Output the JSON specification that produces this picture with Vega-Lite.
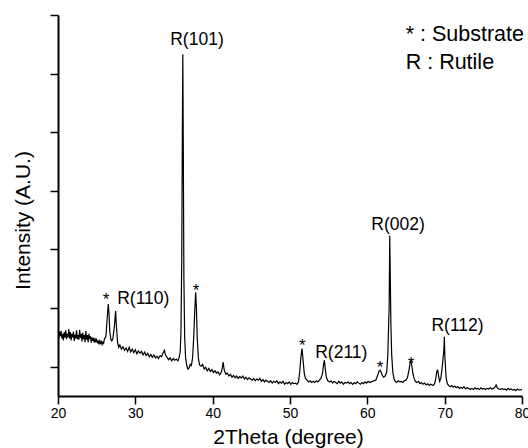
{
  "$schema": "https://vega.github.io/schema/vega-lite/v6.json",
  "width": 464,
  "height": 381,
  "autosize": "none",
  "padding": {"left": 58, "top": 15, "right": 6, "bottom": 52},
  "config": {
    "font": "Liberation Sans",
    "view": {"stroke": null},
    "axis": {"grid": false}
  },
  "datasets": {
    "xrd": [
      {"t":20.0,"i":540},{"t":20.1,"i":470},{"t":20.2,"i":600},{"t":20.3,"i":520},{"t":20.4,"i":610},
      {"t":20.5,"i":480},{"t":20.6,"i":560},{"t":20.7,"i":450},{"t":20.8,"i":590},{"t":20.9,"i":500},
      {"t":21.0,"i":620},{"t":21.1,"i":470},{"t":21.2,"i":560},{"t":21.3,"i":500},{"t":21.4,"i":640},
      {"t":21.5,"i":480},{"t":21.6,"i":590},{"t":21.7,"i":450},{"t":21.8,"i":560},{"t":21.9,"i":500},
      {"t":22.0,"i":600},{"t":22.1,"i":440},{"t":22.2,"i":550},{"t":22.3,"i":480},{"t":22.4,"i":620},
      {"t":22.5,"i":470},{"t":22.6,"i":540},{"t":22.7,"i":460},{"t":22.8,"i":630},{"t":22.9,"i":490},
      {"t":23.0,"i":560},{"t":23.1,"i":430},{"t":23.2,"i":580},{"t":23.3,"i":470},{"t":23.4,"i":540},
      {"t":23.5,"i":420},{"t":23.6,"i":610},{"t":23.7,"i":460},{"t":23.8,"i":540},{"t":23.9,"i":420},
      {"t":24.0,"i":560},{"t":24.1,"i":470},{"t":24.2,"i":520},{"t":24.3,"i":410},{"t":24.4,"i":500},
      {"t":24.5,"i":440},{"t":24.6,"i":490},{"t":24.7,"i":410},{"t":24.8,"i":470},{"t":24.9,"i":430},
      {"t":25.0,"i":460},{"t":25.1,"i":400},{"t":25.2,"i":450},{"t":25.3,"i":380},{"t":25.4,"i":440},
      {"t":25.5,"i":400},{"t":25.6,"i":430},{"t":25.7,"i":380},{"t":25.8,"i":420},{"t":25.9,"i":400},
      {"t":26.0,"i":470},{"t":26.2,"i":520},{"t":26.35,"i":800},{"t":26.5,"i":1070},{"t":26.6,"i":900},
      {"t":26.7,"i":600},{"t":26.85,"i":460},{"t":26.95,"i":440},{"t":27.1,"i":480},{"t":27.3,"i":700},
      {"t":27.45,"i":950},{"t":27.55,"i":700},{"t":27.7,"i":420},{"t":27.85,"i":330},{"t":28.0,"i":370},
      {"t":28.2,"i":300},{"t":28.4,"i":340},{"t":28.6,"i":280},{"t":28.8,"i":320},{"t":29.0,"i":260},
      {"t":29.2,"i":330},{"t":29.4,"i":250},{"t":29.6,"i":300},{"t":29.8,"i":240},{"t":30.0,"i":290},
      {"t":30.2,"i":220},{"t":30.4,"i":270},{"t":30.6,"i":230},{"t":30.8,"i":260},{"t":31.0,"i":200},
      {"t":31.2,"i":250},{"t":31.4,"i":190},{"t":31.6,"i":230},{"t":31.8,"i":170},{"t":32.0,"i":210},
      {"t":32.2,"i":160},{"t":32.4,"i":200},{"t":32.6,"i":150},{"t":32.8,"i":180},{"t":33.0,"i":140},
      {"t":33.2,"i":190},{"t":33.4,"i":170},{"t":33.6,"i":240},{"t":33.75,"i":280},{"t":33.9,"i":200},
      {"t":34.1,"i":160},{"t":34.3,"i":120},{"t":34.5,"i":150},{"t":34.7,"i":100},{"t":34.9,"i":140},
      {"t":35.1,"i":110},{"t":35.3,"i":130},{"t":35.5,"i":100},{"t":35.65,"i":150},{"t":35.8,"i":250},
      {"t":35.9,"i":600},{"t":36.0,"i":1800},{"t":36.08,"i":4000},{"t":36.14,"i":5330},{"t":36.2,"i":3800},
      {"t":36.28,"i":1500},{"t":36.38,"i":500},{"t":36.5,"i":150},{"t":36.65,"i":20},{"t":36.8,"i":-40},
      {"t":36.95,"i":-20},{"t":37.1,"i":40},{"t":37.25,"i":20},{"t":37.4,"i":150},{"t":37.55,"i":500},
      {"t":37.7,"i":1000},{"t":37.8,"i":1270},{"t":37.9,"i":1000},{"t":38.0,"i":500},{"t":38.15,"i":150},
      {"t":38.3,"i":30},{"t":38.5,"i":10},{"t":38.7,"i":40},{"t":38.9,"i":-40},{"t":39.1,"i":-10},
      {"t":39.3,"i":-70},{"t":39.5,"i":-30},{"t":39.7,"i":-80},{"t":39.9,"i":-50},{"t":40.1,"i":-100},
      {"t":40.3,"i":-70},{"t":40.5,"i":-110},{"t":40.7,"i":-90},{"t":40.9,"i":-140},{"t":41.1,"i":-100},
      {"t":41.25,"i":-20},{"t":41.35,"i":80},{"t":41.5,"i":-60},{"t":41.7,"i":-130},{"t":41.9,"i":-110},
      {"t":42.1,"i":-160},{"t":42.3,"i":-130},{"t":42.5,"i":-180},{"t":42.7,"i":-150},{"t":42.9,"i":-190},
      {"t":43.1,"i":-160},{"t":43.3,"i":-200},{"t":43.5,"i":-170},{"t":43.7,"i":-190},{"t":43.9,"i":-160},
      {"t":44.1,"i":-210},{"t":44.3,"i":-180},{"t":44.5,"i":-220},{"t":44.7,"i":-190},{"t":44.9,"i":-210},
      {"t":45.1,"i":-230},{"t":45.3,"i":-200},{"t":45.5,"i":-240},{"t":45.7,"i":-210},{"t":45.9,"i":-230},
      {"t":46.1,"i":-200},{"t":46.3,"i":-250},{"t":46.5,"i":-220},{"t":46.7,"i":-260},{"t":46.9,"i":-230},
      {"t":47.1,"i":-250},{"t":47.3,"i":-270},{"t":47.5,"i":-240},{"t":47.7,"i":-280},{"t":47.9,"i":-250},
      {"t":48.1,"i":-270},{"t":48.3,"i":-240},{"t":48.5,"i":-290},{"t":48.7,"i":-260},{"t":48.9,"i":-280},
      {"t":49.1,"i":-250},{"t":49.3,"i":-300},{"t":49.5,"i":-270},{"t":49.7,"i":-290},{"t":49.9,"i":-260},
      {"t":50.1,"i":-300},{"t":50.3,"i":-270},{"t":50.5,"i":-290},{"t":50.7,"i":-280},{"t":50.9,"i":-300},
      {"t":51.1,"i":-260},{"t":51.25,"i":-100},{"t":51.4,"i":150},{"t":51.55,"i":310},{"t":51.7,"i":100},
      {"t":51.85,"i":-120},{"t":52.0,"i":-200},{"t":52.2,"i":-230},{"t":52.4,"i":-260},{"t":52.6,"i":-240},
      {"t":52.8,"i":-270},{"t":53.0,"i":-250},{"t":53.2,"i":-270},{"t":53.4,"i":-240},{"t":53.6,"i":-260},
      {"t":53.8,"i":-230},{"t":54.0,"i":-200},{"t":54.2,"i":-120},{"t":54.35,"i":50},{"t":54.45,"i":110},
      {"t":54.55,"i":-30},{"t":54.7,"i":-180},{"t":54.9,"i":-240},{"t":55.1,"i":-260},{"t":55.3,"i":-240},
      {"t":55.5,"i":-280},{"t":55.7,"i":-250},{"t":55.9,"i":-270},{"t":56.1,"i":-290},{"t":56.3,"i":-250},
      {"t":56.5,"i":-280},{"t":56.7,"i":-260},{"t":56.9,"i":-300},{"t":57.1,"i":-270},{"t":57.3,"i":-280},
      {"t":57.5,"i":-260},{"t":57.7,"i":-290},{"t":57.9,"i":-270},{"t":58.1,"i":-300},{"t":58.3,"i":-270},
      {"t":58.5,"i":-290},{"t":58.7,"i":-260},{"t":58.9,"i":-280},{"t":59.1,"i":-300},{"t":59.3,"i":-270},
      {"t":59.5,"i":-290},{"t":59.7,"i":-260},{"t":59.9,"i":-280},{"t":60.1,"i":-250},{"t":60.3,"i":-270},
      {"t":60.5,"i":-260},{"t":60.7,"i":-250},{"t":60.9,"i":-240},{"t":61.1,"i":-230},{"t":61.3,"i":-160},
      {"t":61.5,"i":-80},{"t":61.65,"i":-60},{"t":61.8,"i":-100},{"t":61.95,"i":-150},{"t":62.1,"i":-180},
      {"t":62.3,"i":-160},{"t":62.5,"i":-100},{"t":62.65,"i":200},{"t":62.75,"i":700},{"t":62.82,"i":1000},
      {"t":62.9,"i":2240},{"t":62.97,"i":1500},{"t":63.05,"i":700},{"t":63.15,"i":200},{"t":63.3,"i":-100},
      {"t":63.45,"i":-200},{"t":63.6,"i":-250},{"t":63.8,"i":-270},{"t":64.0,"i":-240},{"t":64.2,"i":-260},
      {"t":64.4,"i":-250},{"t":64.6,"i":-270},{"t":64.8,"i":-240},{"t":65.0,"i":-230},{"t":65.2,"i":-180},
      {"t":65.4,"i":-50},{"t":65.55,"i":80},{"t":65.65,"i":100},{"t":65.75,"i":20},{"t":65.9,"i":-120},
      {"t":66.05,"i":-200},{"t":66.2,"i":-250},{"t":66.4,"i":-270},{"t":66.6,"i":-250},{"t":66.8,"i":-290},
      {"t":67.0,"i":-270},{"t":67.2,"i":-300},{"t":67.4,"i":-280},{"t":67.6,"i":-310},{"t":67.8,"i":-290},
      {"t":68.0,"i":-320},{"t":68.2,"i":-300},{"t":68.5,"i":-320},{"t":68.7,"i":-290},{"t":68.85,"i":-200},
      {"t":69.0,"i":-70},{"t":69.1,"i":-60},{"t":69.2,"i":-150},{"t":69.35,"i":-250},{"t":69.5,"i":-200},
      {"t":69.65,"i":-50},{"t":69.8,"i":150},{"t":69.9,"i":300},{"t":69.96,"i":510},{"t":70.02,"i":200},
      {"t":70.1,"i":0},{"t":70.2,"i":-200},{"t":70.35,"i":-290},{"t":70.5,"i":-320},{"t":70.7,"i":-340},
      {"t":70.9,"i":-320},{"t":71.1,"i":-350},{"t":71.3,"i":-330},{"t":71.5,"i":-360},{"t":71.7,"i":-340},
      {"t":71.9,"i":-370},{"t":72.1,"i":-350},{"t":72.3,"i":-370},{"t":72.5,"i":-340},{"t":72.7,"i":-380},
      {"t":72.9,"i":-360},{"t":73.1,"i":-370},{"t":73.3,"i":-390},{"t":73.5,"i":-370},{"t":73.7,"i":-390},
      {"t":73.9,"i":-360},{"t":74.1,"i":-380},{"t":74.3,"i":-370},{"t":74.5,"i":-390},{"t":74.7,"i":-360},
      {"t":74.9,"i":-380},{"t":75.1,"i":-370},{"t":75.3,"i":-390},{"t":75.5,"i":-370},{"t":75.7,"i":-380},
      {"t":75.9,"i":-360},{"t":76.1,"i":-380},{"t":76.3,"i":-370},{"t":76.5,"i":-350},{"t":76.65,"i":-310},
      {"t":76.8,"i":-360},{"t":77.0,"i":-380},{"t":77.2,"i":-390},{"t":77.4,"i":-370},{"t":77.6,"i":-390},
      {"t":77.8,"i":-380},{"t":78.0,"i":-400},{"t":78.2,"i":-370},{"t":78.4,"i":-390},{"t":78.6,"i":-380},
      {"t":78.8,"i":-400},{"t":79.0,"i":-390},{"t":79.2,"i":-410},{"t":79.4,"i":-380},{"t":79.6,"i":-400},
      {"t":79.8,"i":-390},{"t":80.0,"i":-400}
    ],
    "peaks": [
      {"t":37.97,"i":5570,"label":"R(101)"},
      {"t":31.03,"i":1160,"label":"R(110)"},
      {"t":56.63,"i":239,"label":"R(211)"},
      {"t":63.97,"i":2410,"label":"R(002)"},
      {"t":71.66,"i":688,"label":"R(112)"}
    ],
    "stars": [
      {"t":26.21,"i":1051,"label":"*"},
      {"t":37.85,"i":1210,"label":"*"},
      {"t":51.59,"i":266,"label":"*"},
      {"t":61.64,"i":-114,"label":"*"},
      {"t":65.65,"i":-46,"label":"*"}
    ],
    "legend": [
      {"t":64.96,"i":5654,"label":"* : Substrate"},
      {"t":64.96,"i":5188,"label":"R : Rutile"}
    ]
  },
  "layer": [
    {
      "data": {"name": "xrd"},
      "mark": {"type": "line", "color": "black", "strokeWidth": 1.2, "clip": true},
      "encoding": {
        "x": {
          "field": "t", "type": "quantitative",
          "scale": {"domain": [20, 80], "nice": false, "zero": false},
          "axis": {
            "title": "2Theta (degree)",
            "values": [20,25,30,35,40,45,50,55,60,65,70,75,80],
            "labelExpr": "datum.value % 10 === 0 ? datum.label : ''",
            "labelFontSize": 14, "labelColor": "black", "labelPadding": 2,
            "labelFlush": false,
            "tickSize": {"condition": {"test": "datum.value % 10 === 0", "value": 8}, "value": 4},
            "tickColor": "black", "tickWidth": 1.5,
            "domainColor": "black", "domainWidth": 2,
            "titleFontSize": 21, "titleFontWeight": "normal", "titleColor": "black",
            "titleX": 230, "titleY": 41, "titleBaseline": "middle", "titleAlign": "center"
          }
        },
        "y": {
          "field": "i", "type": "quantitative",
          "scale": {"domain": [-500, 6000], "nice": false, "zero": false},
          "axis": {
            "title": "Intensity (A.U.)",
            "values": [0,500,1000,1500,2000,2500,3000,3500,4000,4500,5000,5500,6000],
            "labels": false,
            "tickSize": {"condition": {"test": "datum.value % 1000 === 0", "value": 8}, "value": 4},
            "tickColor": "black", "tickWidth": 1.5,
            "domainColor": "black", "domainWidth": 2,
            "titleFontSize": 21, "titleFontWeight": "normal", "titleColor": "black",
            "titleX": -35, "titleY": 205, "titleAngle": -90, "titleBaseline": "middle", "titleAlign": "center"
          }
        }
      }
    },
    {
      "data": {"name": "peaks"},
      "mark": {"type": "text", "fontSize": 17.5, "align": "center", "baseline": "middle", "color": "black"},
      "encoding": {
        "x": {"field": "t", "type": "quantitative"},
        "y": {"field": "i", "type": "quantitative"},
        "text": {"field": "label"}
      }
    },
    {
      "data": {"name": "stars"},
      "mark": {"type": "text", "fontSize": 17, "align": "center", "baseline": "alphabetic", "color": "black"},
      "encoding": {
        "x": {"field": "t", "type": "quantitative"},
        "y": {"field": "i", "type": "quantitative"},
        "text": {"field": "label"}
      }
    },
    {
      "data": {"name": "legend"},
      "mark": {"type": "text", "fontSize": 21.5, "align": "left", "baseline": "middle", "color": "black"},
      "encoding": {
        "x": {"field": "t", "type": "quantitative"},
        "y": {"field": "i", "type": "quantitative"},
        "text": {"field": "label"}
      }
    }
  ]
}
